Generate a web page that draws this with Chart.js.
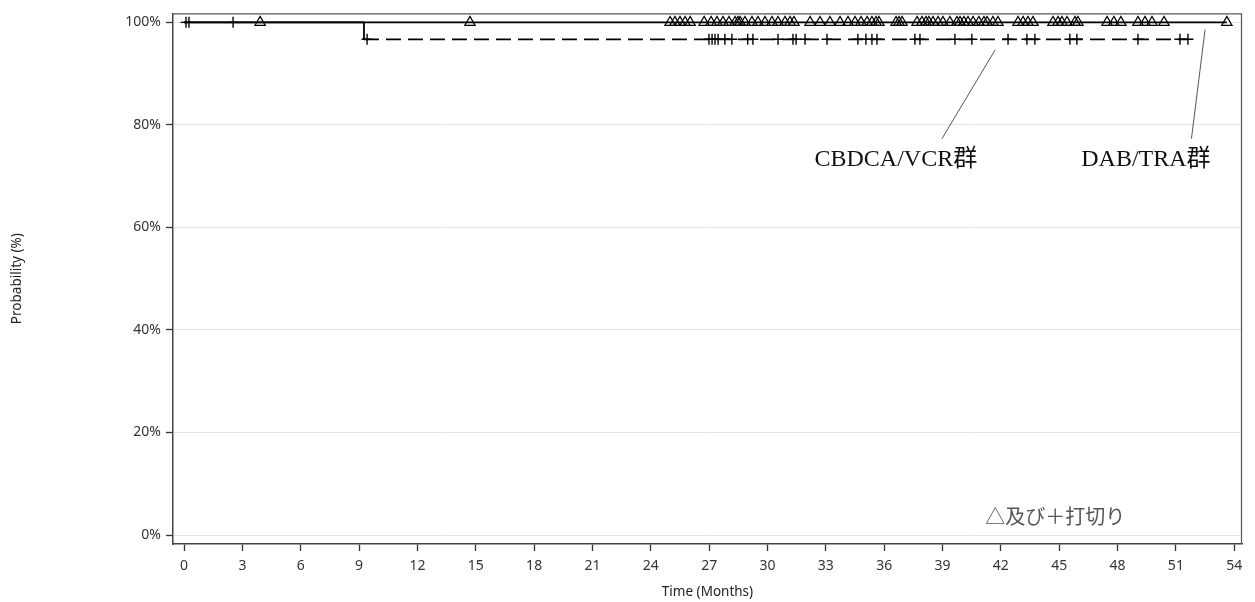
<!DOCTYPE html>
<html><head><meta charset="utf-8">
<script src="https://cdn.jsdelivr.net/npm/chart.js@4"></script>
<style>html,body{margin:0;padding:0;background:#fff}#wrap{width:1255px;height:602px}</style>
</head><body><div id="wrap"><canvas id="c" width="1255" height="602"></canvas></div>
<script>
// ---- data ----
const xTickMonths = [0,3,6,9,12,15,18,21,24,27,30,33,36,39,42,45,48,51,54];
const yTickPercents = [0,20,40,60,80,100];

const dabStepMonths = [0, 53.62];
const dabStepSurvival = [100, 100];
const dabCensorMonths = [3.91, 14.70,
  24.99, 25.24, 25.50, 25.76, 26.02,
  26.74, 27.10, 27.40, 27.71, 28.02, 28.33, 28.48, 28.59, 28.84, 29.20, 29.51, 29.87, 30.23, 30.54, 30.90, 31.16, 31.36,
  32.19, 32.70, 33.21, 33.73, 34.14, 34.50, 34.81, 35.12, 35.37, 35.58, 35.73,
  36.61, 36.76, 36.92,
  37.69, 37.94, 38.15, 38.30, 38.51, 38.77, 39.02, 39.38, 39.74, 39.90, 40.10, 40.31, 40.57, 40.87, 41.13, 41.29, 41.59, 41.85,
  42.88, 43.14, 43.39, 43.65,
  44.68, 44.94, 45.14, 45.40, 45.81, 45.96,
  47.46, 47.81, 48.17,
  49.05, 49.41, 49.77, 50.39,
  53.62];

const cbdcaStepMonths = [0, 9.25, 51.62];
const cbdcaStepSurvival = [100, 96.7, 96.7];
const cbdcaCensorMonths = [0.10, 0.25, 2.52, 9.41,
  26.99, 27.15, 27.30, 27.46, 27.81, 28.17, 28.98, 29.25, 30.54, 31.31, 31.47, 31.93, 33.06,
  34.65, 35.06, 35.37, 35.63, 37.58, 37.84, 39.64, 40.51, 42.37, 43.34, 43.75,
  45.55, 45.91, 49.05, 51.21, 51.62];

const labelCbdca = 'CBDCA/VCR群';
const labelDab = 'DAB/TRA群';
const noteText = '△及び＋打切り';

// ---- helpers ----
function survAt(times, surv, t){ let s = surv[0]; for(let i=0;i<times.length;i++){ if(times[i] <= t) s = surv[i]; } return s; }
const stepPts = (ts, ss) => ts.map((t,i)=>({x:t, y:ss[i]}));
const censorPts = (cs, ts, ss) => cs.map(t=>({x:t, y:survAt(ts, ss, t)}));

const annotations = [
  {text: labelCbdca, x: 36.6, y: 73.2, font: '24px "Liberation Serif", "Noto Sans CJK JP", serif', color:'#111', line:[41.7, 94.6, 38.97, 77.3]},
  {text: labelDab, x: 49.46, y: 73.2, font: '24px "Liberation Serif", "Noto Sans CJK JP", serif', color:'#111', line:[52.5, 98.6, 51.8, 77.3]},
  {text: noteText, x: 44.8, y: 3.6, font: '20px "Noto Sans CJK JP", sans-serif', color:'#555'}
];

const decor = {
  id: 'decor',
  afterDatasetsDraw(chart){
    const {ctx, chartArea:a, scales:{x, y}} = chart;
    ctx.save();
    ctx.strokeStyle = '#555'; ctx.lineWidth = 1.2;
    ctx.beginPath();
    ctx.moveTo(a.left, a.top + 0.5); ctx.lineTo(a.right - 0.5, a.top + 0.5); ctx.lineTo(a.right - 0.5, a.bottom);
    ctx.stroke();
    annotations.forEach(an=>{
      if(an.line){
        ctx.strokeStyle = '#555'; ctx.lineWidth = 1;
        ctx.beginPath();
        ctx.moveTo(x.getPixelForValue(an.line[0]), y.getPixelForValue(an.line[1]));
        ctx.lineTo(x.getPixelForValue(an.line[2]), y.getPixelForValue(an.line[3]));
        ctx.stroke();
      }
      ctx.font = an.font; ctx.fillStyle = an.color;
      ctx.textAlign = 'center'; ctx.textBaseline = 'middle';
      ctx.fillText(an.text, x.getPixelForValue(an.x), y.getPixelForValue(an.y));
    });
    ctx.restore();
  }
};

const tickFont = {family: '"Noto Sans", "DejaVu Sans", sans-serif', size: 14};
const titleFont = {family: '"Noto Sans", "DejaVu Sans", sans-serif', size: 13.5};

new Chart(document.getElementById('c'), {
  type: 'line',
  data: {
    datasets: [
      {label: labelDab, data: stepPts(dabStepMonths, dabStepSurvival), stepped: 'before', borderColor:'#000', borderWidth:1.8, pointRadius:0, order:2},
      {label: labelCbdca, data: stepPts(cbdcaStepMonths, cbdcaStepSurvival), stepped: 'before', borderColor:'#000', borderWidth:1.8, borderDash:[15,7], pointRadius:0, order:3,
        // where this curve lies on top of the solid curve (still at 100%), draw it solid so it merges with it
        segment:{borderDash: c => (c.p0.parsed.y === 100 ? [] : undefined)}},
      {label: labelDab + ' censored', data: censorPts(dabCensorMonths, dabStepMonths, dabStepSurvival), showLine:false, pointStyle:'triangle', pointRadius:6, pointBorderColor:'#000', pointBackgroundColor:'rgba(0,0,0,0)', pointBorderWidth:1.2, order:1},
      {label: labelCbdca + ' censored', data: censorPts(cbdcaCensorMonths, cbdcaStepMonths, cbdcaStepSurvival), showLine:false, pointStyle:'cross', pointRadius:5.5, pointBorderColor:'#000', pointBorderWidth:1.4, order:1}
    ]
  },
  options: {
    responsive:false, animation:false, devicePixelRatio:1,
    layout:{padding:{left:0, right:13, top:11, bottom:0}},
    plugins:{legend:{display:false}, tooltip:{enabled:false}},
    scales:{
      x:{type:'linear', min:-0.57, max:54.4,
        afterBuildTicks: ax => { ax.ticks = xTickMonths.map(v=>({value:v})); },
        afterFit: ax => { ax.height = 58; },
        grid:{display:true, drawOnChartArea:false, drawTicks:true, tickLength:7, tickColor:'#333', tickWidth:1.3},
        border:{display:true, color:'#444', width:1.5},
        ticks:{font:tickFont, color:'#333', padding:7, maxRotation:0, autoSkip:false},
        title:{display:true, text:'Time (Months)', font:titleFont, color:'#222', padding:{top:2, bottom:2}}
      },
      y:{type:'linear', min:-1.75, max:101.75,
        afterBuildTicks: ax => { ax.ticks = yTickPercents.map(v=>({value:v})); },
        afterFit: ax => { ax.width = 173; },
        grid:{display:true, color:'#e2e2e2', lineWidth:1, tickLength:7, tickColor:'#333', tickWidth:1.3},
        border:{display:true, color:'#444', width:1.5},
        ticks:{font:tickFont, color:'#333', padding:5, callback: v => v + '%'},
        title:{display:true, text:'Probability (%)', font:titleFont, color:'#222', padding:{top:9, bottom:4}}
      }
    }
  },
  plugins:[decor]
});
</script></body></html>
